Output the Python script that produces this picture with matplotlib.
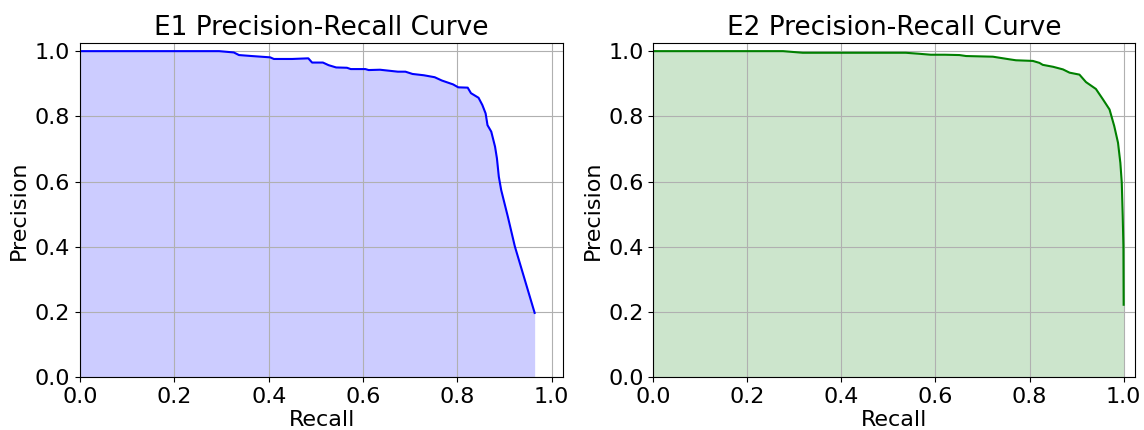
import numpy as np
import matplotlib
matplotlib.use('Agg')
import matplotlib.pyplot as plt

# E1 precision-recall points
e1_recall = [0.0, 0.295, 0.326, 0.337, 0.364, 0.403, 0.411, 0.45, 0.484, 0.492, 0.515,
             0.527, 0.543, 0.566, 0.574, 0.605, 0.612, 0.636, 0.674, 0.690, 0.705,
             0.729, 0.752, 0.767, 0.791, 0.802, 0.822, 0.829, 0.845, 0.853, 0.860,
             0.864, 0.872, 0.880, 0.884, 0.888, 0.893, 0.907, 0.922, 0.964]
e1_precision = [1.0, 1.0, 0.996, 0.988, 0.985, 0.981, 0.976, 0.976, 0.978, 0.965, 0.965,
                0.957, 0.950, 0.949, 0.945, 0.945, 0.942, 0.943, 0.937, 0.937, 0.930,
                0.926, 0.920, 0.910, 0.898, 0.889, 0.888, 0.871, 0.857, 0.835, 0.809,
                0.773, 0.753, 0.707, 0.671, 0.615, 0.574, 0.493, 0.401, 0.197]

# E2 precision-recall points
e2_recall = [0.0, 0.276, 0.318, 0.537, 0.565, 0.59, 0.62, 0.651, 0.665, 0.722, 0.757,
             0.771, 0.807, 0.821, 0.828, 0.850, 0.871, 0.885, 0.906, 0.920, 0.941,
             0.956, 0.970, 0.980, 0.988, 0.993, 0.996, 0.998, 0.9995, 1.0]
e2_precision = [1.0, 1.0, 0.995, 0.995, 0.992, 0.989, 0.989, 0.988, 0.985, 0.983, 0.975,
                0.972, 0.970, 0.964, 0.958, 0.952, 0.944, 0.934, 0.928, 0.905, 0.884,
                0.852, 0.821, 0.770, 0.719, 0.657, 0.596, 0.494, 0.40, 0.222]

fig = plt.figure(figsize=(11.44, 4.3), dpi=100)
ax1 = fig.add_axes([0.070, 0.123, 0.4225, 0.777])
ax2 = fig.add_axes([0.571, 0.123, 0.4215, 0.777])

panels = [
    (ax1, e1_recall, e1_precision, 'blue', 'E1 Precision-Recall Curve'),
    (ax2, e2_recall, e2_precision, 'green', 'E2 Precision-Recall Curve'),
]

for ax, rec, prec, color, title in panels:
    ax.plot(rec, prec, color=color, lw=1.5)
    ax.fill_between(rec, prec, color=color, alpha=0.2, lw=0)
    ax.set_xlim(0, 1.025)
    ax.set_ylim(0, 1.025)
    ax.set_xticks(np.arange(0, 1.01, 0.2))
    ax.set_yticks(np.arange(0, 1.01, 0.2))
    ax.set_xlabel('Recall', fontsize=16, labelpad=2)
    ax.set_ylabel('Precision', fontsize=16)
    ax.set_title(title, fontsize=19, pad=6)
    ax.tick_params(labelsize=16)
    ax.grid(True)

fig.savefig('out.png', dpi=100)
